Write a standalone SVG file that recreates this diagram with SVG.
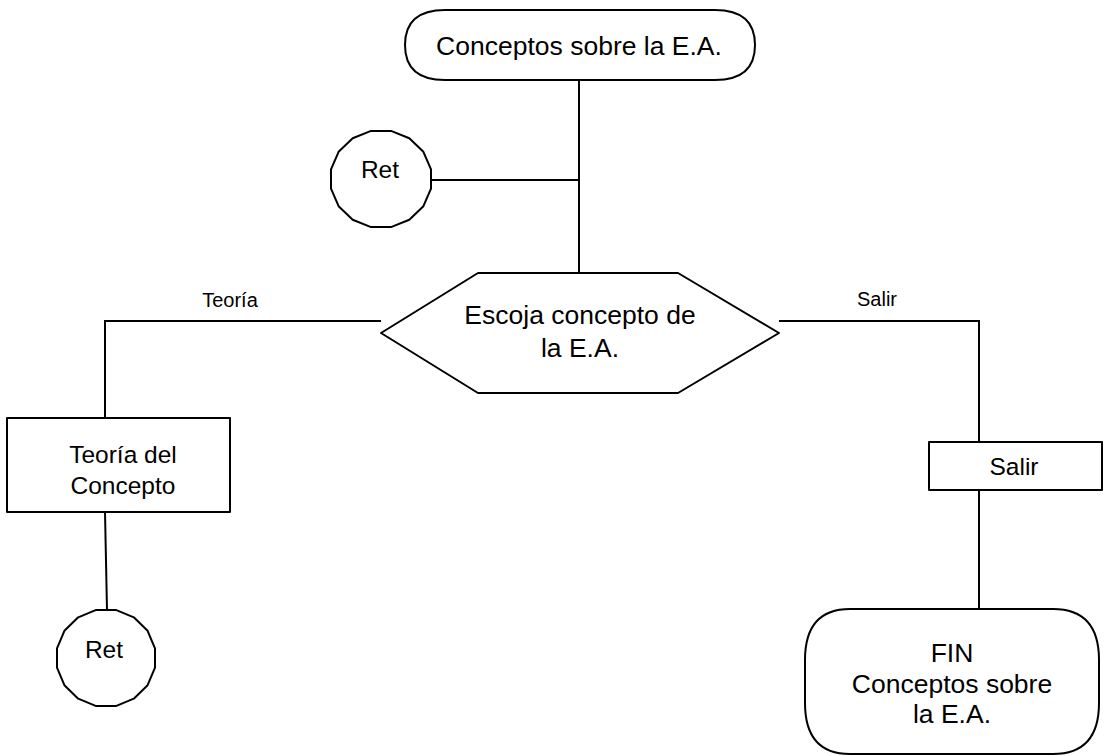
<svg xmlns="http://www.w3.org/2000/svg" width="1106" height="756" viewBox="0 0 1106 756">
  <style>
    .shape { fill: #ffffff; stroke: #000000; stroke-width: 2; stroke-linejoin: round; }
    .wire { fill: none; stroke: #000000; stroke-width: 2; }
    text { font-family: "Liberation Sans", Arial, sans-serif; fill: #000000; text-anchor: middle; }
    .big { font-size: 26.5px; }
    .mid { font-size: 24.5px; }
    .lbl { font-size: 20px; }
  </style>
  <rect width="1106" height="756" fill="#ffffff"/>

  <!-- connectors -->
  <g id="connectors">
    <line class="wire" x1="579" y1="80" x2="579" y2="273"/>
    <line class="wire" x1="432" y1="180" x2="579" y2="180"/>
    <polyline class="wire" points="381,321 105,321 105,418"/>
    <polyline class="wire" points="779,321 979,321 979,442"/>
    <line class="wire" x1="105" y1="512" x2="107" y2="610"/>
    <line class="wire" x1="979" y1="490" x2="979" y2="609"/>
    <text class="lbl" x="230" y="307">Teoría</text>
    <text class="lbl" x="877" y="306">Salir</text>
  </g>

  <!-- start terminator -->
  <g id="start">
    <path class="shape" d="M445,10 H715 Q755,10 755,45 Q755,80 715,80 H445 Q405,80 405,45 Q405,10 445,10 Z"/>
    <text class="big" x="579" y="55">Conceptos sobre la E.A.</text>
  </g>

  <!-- return connector near the top -->
  <g id="ret-top">
    <polygon class="shape" points="431,169.4 423.4,151.8 409.3,138.3 391,130.9 371,130.9 352.7,138.3 338.6,151.8 331,169.4 331,188.6 338.6,206.2 352.7,219.7 371,227.1 391,227.1 409.3,219.7 423.4,206.2 431,188.6"/>
    <text class="mid" x="380" y="178">Ret</text>
  </g>

  <!-- decision / menu -->
  <g id="menu">
    <polygon class="shape" points="381,333 478,273 678,273 779,333 678,393 478,393"/>
    <text class="big" x="580" y="324">Escoja concepto de</text>
    <text class="big" x="580" y="357">la E.A.</text>
  </g>

  <!-- theory process -->
  <g id="teoria">
    <rect class="shape" x="7" y="418" width="223" height="94"/>
    <text class="mid" x="123" y="463">Teoría del</text>
    <text class="mid" x="123" y="494">Concepto</text>
  </g>

  <!-- return connector at the bottom -->
  <g id="ret-bottom">
    <polygon class="shape" points="155,648.4 147.6,630.8 133.8,617.3 115.8,609.9 96.2,609.9 78.2,617.3 64.4,630.8 57,648.4 57,667.6 64.4,685.2 78.2,698.7 96.2,706.1 115.8,706.1 133.8,698.7 147.6,685.2 155,667.6"/>
    <text class="mid" x="104" y="658">Ret</text>
  </g>

  <!-- exit process -->
  <g id="salir">
    <rect class="shape" x="929" y="442" width="173" height="48"/>
    <text class="mid" x="1014" y="475">Salir</text>
  </g>

  <!-- end terminator -->
  <g id="fin">
    <path class="shape" d="M850,609 H1053 Q1099,609 1099,660 V703 Q1099,754 1053,754 H850 Q805,754 805,703 V660 Q805,609 850,609 Z"/>
    <text class="big" x="952" y="662">FIN</text>
    <text class="big" x="952" y="693">Conceptos sobre</text>
    <text class="big" x="952" y="723">la E.A.</text>
  </g>
</svg>
